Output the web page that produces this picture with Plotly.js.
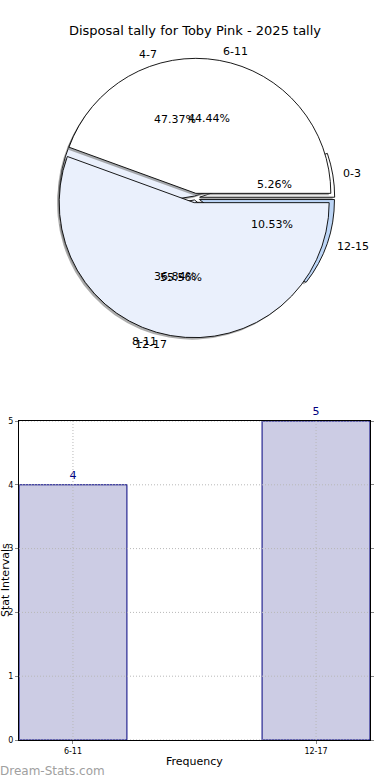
<!DOCTYPE html>
<html><head><meta charset="utf-8">
<script src="https://cdn.plot.ly/plotly-3.0.1.min.js"></script>
<style>html,body{margin:0;padding:0;background:#fff}#chart{width:390px;height:780px}</style>
</head><body><div id="chart"></div>
<script>
// ---- data ----
const titleText = "Disposal tally for Toby Pink - 2025 tally";
const pieALabels = ["0-3", "4-7", "8-11", "12-15"];
const pieAValues = [1, 9, 7, 2];
const pieBLabels = ["6-11", "12-17"];
const pieBValues = [4, 5];
const barCategories = ["6-11", "12-17"];
const barValues = [4, 5];
const yTicks = [0, 1, 2, 3, 4, 5];
const yTitle = "Stat Intervals";
const xTitle = "Frequency";
const watermark = "Dream-Stats.com";

// ---- layout constants ----
const W = 390, H = 780;
const CX = 195, CY = 198, R = 135;
const PULL = 0.035;
const FONT = "DejaVu Sans, sans-serif";
const GRID = "#b8b8b8";
const pieAColors = ["#ffffff", "#eaf0fc", "#eaf0fc", "#bcd5f6"];
const pieBColors = ["#ffffff", "#eaf0fc"];

function px2x(px){ return px / W; }
function py2y(py){ return 1 - py / H; }
function pieDomain(dx, dy){
  const half = R * (1 + PULL);
  return {x:[px2x(CX - half + dx), px2x(CX + half + dx)], y:[py2y(CY + half + dy), py2y(CY - half + dy)]};
}
// first slice starts at 3 o'clock and slices run counterclockwise (matplotlib style)
function startRotation(values){
  const total = values.reduce((a,b)=>a+b, 0);
  return 90 - 360 * values[0] / total;
}
function pieTrace(labels, values, colors, pulls, dom, lineColor, opacity){
  return {type:"pie", labels:labels, values:values, sort:false, direction:"counterclockwise",
    rotation:startRotation(values), textinfo:"none", hoverinfo:"none", showlegend:false, pull:pulls,
    domain:dom, opacity:opacity,
    marker:{colors:colors, line:{color:lineColor, width:lineColor === "rgba(0,0,0,0)" ? 0 : 0.9}}};
}
const pullA = pieAValues.map((v,i)=> (i===0||i===3) ? PULL : 0.015);
const pullB = pieBValues.map(()=> PULL);
const grayA = pieAValues.map(()=> "#777777");
const grayB = pieBValues.map(()=> "#777777");

const traces = [
  pieTrace(pieALabels, pieAValues, grayA, pullA, pieDomain(-2, 2), "rgba(0,0,0,0)", 0.6),
  pieTrace(pieALabels, pieAValues, pieAColors, pullA, pieDomain(0, 0), "#000000", 1),
  pieTrace(pieBLabels, pieBValues, grayB, pullB, pieDomain(-2, 2), "rgba(0,0,0,0)", 0.6),
  pieTrace(pieBLabels, pieBValues, pieBColors, pullB, pieDomain(0, 0), "#000000", 1),
  {type:"bar", x:barCategories, y:barValues, xaxis:"x", yaxis:"y", width:0.444,
   marker:{color:"#ccccE4", line:{color:"#00007f", width:1}},
   text:barValues.map(String), textposition:"outside", cliponaxis:false,
   textfont:{family:FONT, size:11, color:"#00007f"}, hoverinfo:"none", showlegend:false}
];

// pie annotations derived from data
const annotations = [];
function addPieText(labels, values){
  const total = values.reduce((a,b)=>a+b, 0);
  let cum = 0;
  values.forEach((v,i)=>{
    const mid = (cum + v/2) / total * 2 * Math.PI;
    cum += v;
    const c = Math.cos(mid), s = Math.sin(mid);
    const lx = CX + 1.1 * R * c, ly = CY - 1.1 * R * s;
    annotations.push({xref:"paper", yref:"paper", x:px2x(lx), y:py2y(ly), text:labels[i], showarrow:false,
      xanchor: c >= 0 ? "left" : "right", yanchor:"middle", font:{family:FONT, size:11, color:"#000"}});
    const tx = CX + 0.6 * R * c, ty = CY - 0.6 * R * s;
    annotations.push({xref:"paper", yref:"paper", x:px2x(tx), y:py2y(ty), text:(100*v/total).toFixed(2)+"%", showarrow:false,
      xanchor:"center", yanchor:"middle", font:{family:FONT, size:11, color:"#000"}});
  });
}
addPieText(pieALabels, pieAValues);
addPieText(pieBLabels, pieBValues);
annotations.push({xref:"paper", yref:"paper", x:px2x(-2), y:py2y(771), text:watermark, showarrow:false,
  xanchor:"left", yanchor:"middle", font:{family:FONT, size:12, color:"#a0a0a0"}});
annotations.push({xref:"paper", yref:"paper", x:px2x(194), y:py2y(761), text:xTitle, showarrow:false,
  xanchor:"center", yanchor:"middle", font:{family:FONT, size:11, color:"#000"}});
annotations.push({xref:"paper", yref:"paper", x:px2x(5), y:py2y(580), text:yTitle, showarrow:false, textangle:-90,
  xanchor:"center", yanchor:"middle", font:{family:FONT, size:11, color:"#000"}});

// dotted grid drawn above the bars (as in the reference)
const shapes = [];
yTicks.forEach(t => shapes.push({type:"line", layer:"above", xref:"x domain", yref:"y", x0:0, x1:1, y0:t, y1:t,
  line:{color:GRID, width:1, dash:"1px,2px"}}));
barCategories.forEach(c => shapes.push({type:"line", layer:"above", xref:"x", yref:"y domain", x0:c, x1:c, y0:0, y1:1,
  line:{color:GRID, width:1, dash:"1px,2px"}}));

const layout = {
  width:W, height:H, margin:{l:0, r:0, t:0, b:0},
  paper_bgcolor:"#fff", plot_bgcolor:"#fff",
  title:{text:titleText, x:0.5, xanchor:"center", y:py2y(30), yanchor:"middle", font:{family:FONT, size:13, color:"#000"}},
  xaxis:{domain:[px2x(19), px2x(370)], anchor:"y", type:"category", range:[-0.222, 1.222],
    showline:true, linecolor:"#000", linewidth:1, mirror:true, layer:"above traces",
    showgrid:false,
    ticks:"outside", ticklen:3, tickcolor:"#888", tickfont:{family:FONT, size:8, color:"#000"}, zeroline:false, fixedrange:true},
  yaxis:{domain:[py2y(740), py2y(421)], anchor:"x", range:[0, 5], tickvals:yTicks,
    showline:true, linecolor:"#000", linewidth:1, mirror:"ticks", layer:"above traces",
    showgrid:false,
    ticks:"outside", ticklen:3, tickcolor:"#888", tickfont:{family:FONT, size:8, color:"#000"}, zeroline:false, fixedrange:true},
  shapes:shapes,
  annotations:annotations
};
Plotly.newPlot("chart", traces, layout, {displayModeBar:false, staticPlot:true});
</script></body></html>
